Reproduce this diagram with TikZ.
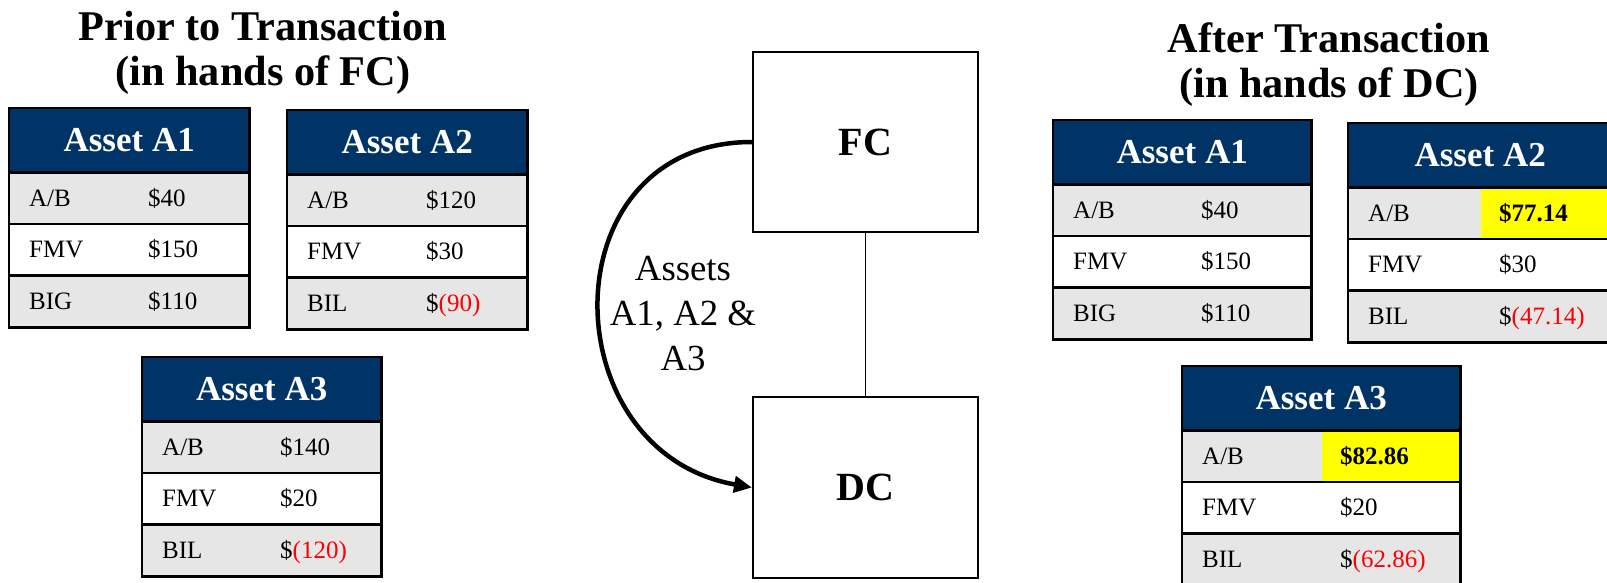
\documentclass[tikz,border=0pt]{standalone}
\usepackage{fontspec}
\setmainfont{Liberation Serif}
\usetikzlibrary{arrows.meta}
\definecolor{navy}{RGB}{0,51,102}
\definecolor{rowgrey}{RGB}{230,230,230}
\definecolor{hlyellow}{RGB}{255,255,0}
\definecolor{negred}{RGB}{255,0,0}
\tikzset{
  hdr/.style={fill=navy, text=white, anchor=north west, minimum height=64pt, inner sep=0pt,
    font=\fontsize{35}{40}\selectfont\bfseries},
  cellbase/.style={anchor=north west, inner ysep=0pt, text height=17pt, text depth=0pt,
    align=left, font=\fontsize{25}{30}\selectfont},
  lcell/.style={cellbase, inner xsep=20pt},
  vcell/.style={cellbase, inner xsep=18pt},
  hl/.style={fill=hlyellow, font=\fontsize{25}{30}\selectfont\bfseries},
  tline/.style={line width=2.6pt, line join=miter},
  ttl/.style={align=center, inner sep=0pt, font=\fontsize{42.3}{45}\selectfont\bfseries},
  lbl/.style={align=center, inner sep=0pt, font=\fontsize{36.8}{45}\selectfont},
  ent/.style={draw, line width=2pt, minimum width=225pt, minimum height=180pt, inner sep=0pt,
    font=\fontsize{40}{48}\selectfont\bfseries},
  conn/.style={line width=1.5pt},
  transfer/.style={line width=4.5pt, -{Triangle[length=18pt,width=16pt]}}
}
% #1 name, #2 x, #3 y, #4 width, #5 value column offset, #6 title, #7 style of first value, #8 v1, #9 v2
\newcommand\atable[9]{%
  \def\atN{#1}\def\atX{#2}\def\atY{#3}\def\atW{#4}\def\atO{#5}\def\atT{#6}%
  \tikzset{vfirst/.style={#7}}%
  \def\atVa{#8}\def\atVb{#9}%
  \atableDraw}
% #1 third label, #2 third value
\newcommand\atableDraw[2]{%
  \pgfmathsetmacro\atLW{\atO-40}%
  \pgfmathsetmacro\atVW{\atW-\atO-36}%
  \node[hdr, minimum width=\atW pt] (\atN-h) at (\atX,\atY) {\atT};
  \node[lcell, fill=rowgrey, text width=\atLW pt, minimum height=51.5pt] (\atN-l1) at (\atX,\atY+64) {A/B};
  \node[vcell, fill=rowgrey, text width=\atVW pt, minimum height=51.5pt, vfirst] (\atN-v1) at (\atX+\atO,\atY+64) {\atVa};
  \node[lcell, fill=white, text width=\atLW pt, minimum height=51.5pt] (\atN-l2) at (\atX,\atY+115.5) {FMV};
  \node[vcell, fill=white, text width=\atVW pt, minimum height=51.5pt] (\atN-v2) at (\atX+\atO,\atY+115.5) {\atVb};
  \node[lcell, fill=rowgrey, text width=\atLW pt, minimum height=52pt] (\atN-l3) at (\atX,\atY+167) {#1};
  \node[vcell, fill=rowgrey, text width=\atVW pt, minimum height=52pt] (\atN-v3) at (\atX+\atO,\atY+167) {#2};
  \draw[tline] (\atN-h.north west) rectangle (\atN-v3.south east);
  \draw[tline] (\atN-h.south west) -- (\atN-h.south east);
  \draw[tline] (\atN-l1.south west) -- (\atN-v1.south east);
  \draw[tline] (\atN-l2.south west) -- (\atN-v2.south east);
}
\begin{document}
\begin{tikzpicture}[x=1pt, y=-1pt]
\useasboundingbox (0,0) rectangle (1607,583);

% titles
\node[ttl] (tL) at (263,53) {Prior to Transaction\\(in hands of FC)};
\node[ttl] (tR) at (1329,65) {After Transaction\\(in hands of DC)};

% before
\atable{LA}{9}{108}{240}{121}{Asset A1}{}{\$40}{\$150}{BIG}{\$110}
\atable{LB}{287}{110}{240}{121}{Asset A2}{}{\$120}{\$30}{BIL}{\$\textcolor{negred}{(90)}}
\atable{LC}{142}{357}{239}{120}{Asset A3}{}{\$140}{\$20}{BIL}{\$\textcolor{negred}{(120)}}

% after
\atable{RA}{1053}{120}{258}{130}{Asset A1}{}{\$40}{\$150}{BIG}{\$110}
\atable{RB}{1348}{123}{264}{133}{Asset A2}{hl}{\$77.14}{\$30}{BIL}{\$\textcolor{negred}{(47.14)}}
\atable{RC}{1182}{366}{278}{140}{Asset A3}{hl}{\$82.86}{\$20}{BIL}{\$\textcolor{negred}{(62.86)}}

% entities
\node[ent] (FC) at (865.5,142) {FC};
\node[ent, minimum height=181pt] (DC) at (865.5,487.5) {DC};
\draw[conn] (FC.south) -- (DC.north);
\draw[transfer] (FC.west) to[out=180, in=170, looseness=1.52] (DC.west);
\node[lbl] (lab) at (683,314) {Assets\\A1, A2 \&\\A3};
\end{tikzpicture}
\end{document}
